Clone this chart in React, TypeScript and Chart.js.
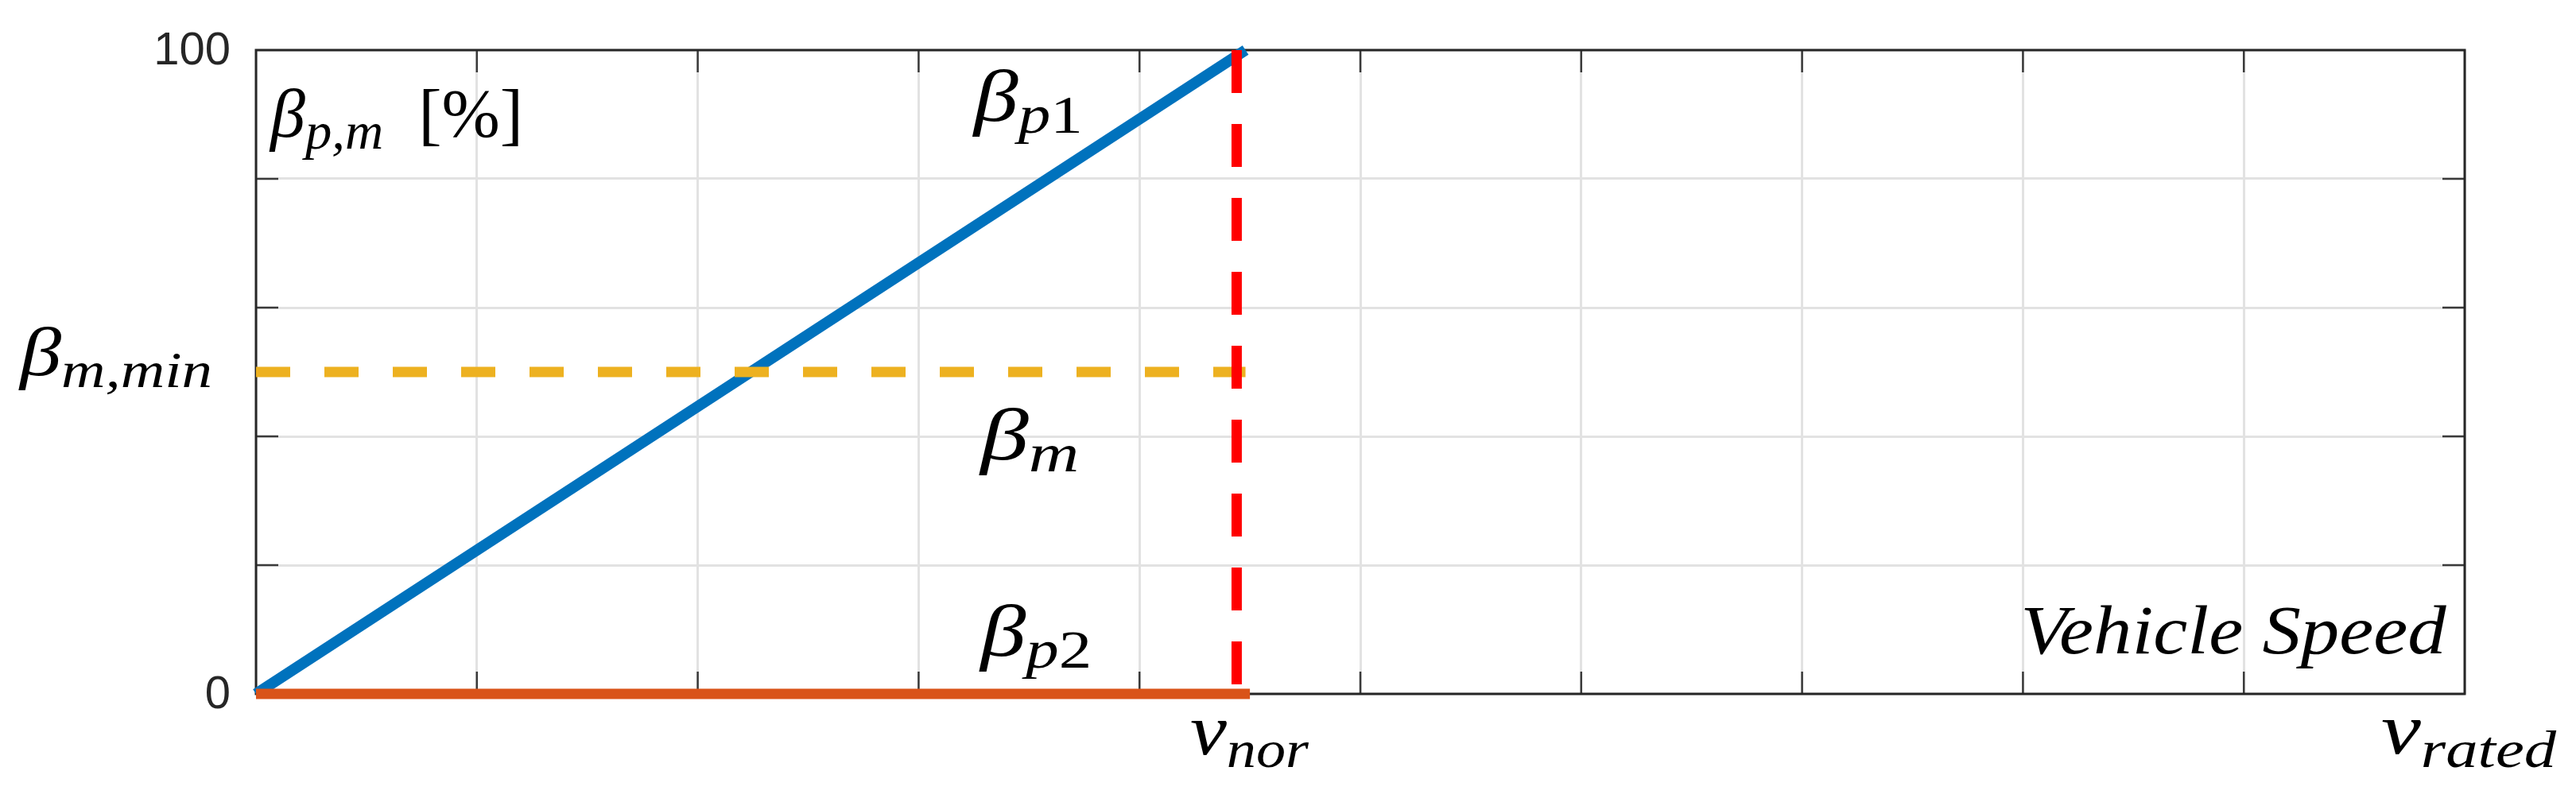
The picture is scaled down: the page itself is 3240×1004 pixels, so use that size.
import React, { useEffect, useRef } from 'react';
import { Chart, registerables } from 'chart.js';

Chart.register(...registerables);

// ---- data ----
const speedMin = 0;
const speedMax = 100;
const speedStep = 10;
const shareMin = 0;
const shareMax = 100;
const shareStep = 20;
const shareTickLabels = [0, 100];

const vNor = 44.4;
const vRated = 100;

const betaP1Speed = [0, 44.8];
const betaP1Share = [0, 100];

const betaP2Speed = [0, 45];
const betaP2Share = [0, 0];

const betaMMinSpeed = [0, 44.8];
const betaMMinShare = [50, 50];

const vNorMarkerSpeed = [vNor, vNor];
const vNorMarkerShare = [100, 0];

// ---- styles ----
const SERIF = '"Liberation Serif", "Times New Roman", serif';
const SANS = '"Liberation Sans", Arial, Helvetica, sans-serif';
const AXIS = '#262626';
const GRID = '#e2e2e2';

type Seg = { t: string; it?: boolean; sub?: boolean };

function drawRich(
  ctx: CanvasRenderingContext2D,
  segs: Seg[],
  size: number,
  subSize: number,
  subDrop: number,
  x: number,
  baseline: number,
  align: 'left' | 'center' | 'right',
  targetW?: number
) {
  const fontOf = (s: Seg) => `${s.it ? 'italic ' : ''}${s.sub ? subSize : size}px ${SERIF}`;
  let w = 0;
  const widths = segs.map((s) => {
    ctx.font = fontOf(s);
    const m = ctx.measureText(s.t).width;
    w += m;
    return m;
  });
  const sx = targetW ? targetW / w : 1;
  const totalW = w * sx;
  const left = align === 'center' ? x - totalW / 2 : align === 'right' ? x - totalW : x;
  ctx.save();
  ctx.translate(left, 0);
  ctx.scale(sx, 1);
  ctx.fillStyle = '#000000';
  ctx.textAlign = 'left';
  ctx.textBaseline = 'alphabetic';
  let cx = 0;
  segs.forEach((s, i) => {
    ctx.font = fontOf(s);
    ctx.fillText(s.t, cx, baseline + (s.sub ? subDrop : 0));
    cx += widths[i];
  });
  ctx.restore();
}

const decorPlugin = {
  id: 'decor',
  beforeDatasetsDraw(chart: any) {
    const ctx: CanvasRenderingContext2D = chart.ctx;
    const { left, right, top, bottom } = chart.chartArea;
    const xs = chart.scales.x;
    const ys = chart.scales.y;
    ctx.save();
    // inward ticks
    ctx.strokeStyle = '#3a3a3a';
    ctx.lineWidth = 2.5;
    const tl = 28;
    ctx.beginPath();
    xs.ticks.forEach((t: any) => {
      if (t.value <= speedMin || t.value >= speedMax) return;
      const px = xs.getPixelForValue(t.value);
      ctx.moveTo(px, bottom);
      ctx.lineTo(px, bottom - tl);
      ctx.moveTo(px, top);
      ctx.lineTo(px, top + tl);
    });
    ys.ticks.forEach((t: any) => {
      if (t.value <= shareMin || t.value >= shareMax) return;
      const py = ys.getPixelForValue(t.value);
      ctx.moveTo(left, py);
      ctx.lineTo(left + tl, py);
      ctx.moveTo(right, py);
      ctx.lineTo(right - tl, py);
    });
    ctx.stroke();
    // box
    ctx.strokeStyle = AXIS;
    ctx.lineWidth = 3;
    ctx.strokeRect(left, top, right - left, bottom - top);
    ctx.restore();
  },
  afterDraw(chart: any) {
    const ctx: CanvasRenderingContext2D = chart.ctx;
    const { left, bottom } = chart.chartArea;
    const xs = chart.scales.x;
    const ys = chart.scales.y;
    const X = (v: number) => xs.getPixelForValue(v);
    const Y = (v: number) => ys.getPixelForValue(v);

    // y tick labels (only the labelled ones)
    ctx.save();
    ctx.fillStyle = AXIS;
    ctx.font = `58px ${SANS}`;
    ctx.textAlign = 'right';
    ctx.textBaseline = 'middle';
    ys.ticks.forEach((t: any) => {
      if (!shareTickLabels.includes(t.value)) return;
      ctx.fillText(String(t.value), left - 32, Y(t.value) + 2);
    });
    ctx.restore();

    drawRich(ctx, [{ t: 'β', it: true }, { t: 'p,m', it: true, sub: true }, { t: '  [%]' }],
      87, 66, 15, X(0.65), Y(86.5), 'left', 318);
    drawRich(ctx, [{ t: 'β', it: true }, { t: 'p', it: true, sub: true }, { t: '1', sub: true }],
      94, 68, 15, X(32.5), Y(89.0), 'left', 137);
    drawRich(ctx, [{ t: 'β', it: true }, { t: 'm', it: true, sub: true }],
      94, 68, 15, X(32.8), Y(36.4), 'left', 124);
    drawRich(ctx, [{ t: 'β', it: true }, { t: 'p', it: true, sub: true }, { t: '2', sub: true }],
      94, 68, 15, X(32.8), Y(5.9), 'left', 140);
    drawRich(ctx, [{ t: 'Vehicle Speed', it: true }],
      87, 62, 0, X(79.9), Y(6.3), 'left', 535);
    drawRich(ctx, [{ t: 'β', it: true }, { t: 'm,min', it: true, sub: true }],
      87, 64, 15, left - 55, Y(betaMMinShare[0]) + 4, 'right', 242);
    drawRich(ctx, [{ t: 'v', it: true }, { t: 'nor', it: true, sub: true }],
      92, 66, 16, X(vNor) + 16, bottom + 76, 'center', 149);
    drawRich(ctx, [{ t: 'v', it: true }, { t: 'rated', it: true, sub: true }],
      92, 66, 17, X(vRated) + 5, bottom + 75, 'center', 220);
  },
};

const pts = (xs: number[], ys: number[]) => xs.map((x, i) => ({ x, y: ys[i] }));

export default function App() {
  const ref = useRef<HTMLCanvasElement | null>(null);

  useEffect(() => {
    if (!ref.current) return;
    const chart = new Chart(ref.current, {
      type: 'line',
      data: {
        datasets: [
          {
            label: 'beta_p1',
            data: pts(betaP1Speed, betaP1Share),
            borderColor: '#0072BD',
            borderWidth: 14,
            pointRadius: 0,
            borderCapStyle: 'butt',
            clip: false as any,
            order: 3,
          },
          {
            label: 'beta_p2',
            data: pts(betaP2Speed, betaP2Share),
            borderColor: '#D95319',
            borderWidth: 13,
            pointRadius: 0,
            borderCapStyle: 'butt',
            clip: false as any,
            order: 2,
          },
          {
            label: 'beta_m_min',
            data: pts(betaMMinSpeed, betaMMinShare),
            borderColor: '#EDB120',
            borderWidth: 13,
            borderDash: [43, 43],
            pointRadius: 0,
            borderCapStyle: 'butt',
            clip: false as any,
            order: 1,
          },
          {
            label: 'v_nor',
            data: pts(vNorMarkerSpeed, vNorMarkerShare),
            borderColor: '#FF0000',
            borderWidth: 13,
            borderDash: [54, 39],
            pointRadius: 0,
            borderCapStyle: 'butt',
            clip: false as any,
            order: 0,
          },
        ],
      },
      options: {
        animation: false,
        responsive: true,
        maintainAspectRatio: false,
        layout: { padding: { left: 0, top: 63, right: 140, bottom: 0 } },
        plugins: { legend: { display: false }, tooltip: { enabled: false } },
        elements: { line: { tension: 0 } },
        scales: {
          x: {
            type: 'linear',
            min: speedMin,
            max: speedMax,
            ticks: { display: false, stepSize: speedStep },
            grid: { color: GRID, lineWidth: 3, drawTicks: false },
            border: { display: false },
            afterFit: (s: any) => {
              s.height = 131;
            },
          },
          y: {
            type: 'linear',
            min: shareMin,
            max: shareMax,
            ticks: { display: false, stepSize: shareStep },
            grid: { color: GRID, lineWidth: 3, drawTicks: false },
            border: { display: false },
            afterFit: (s: any) => {
              s.width = 322;
            },
          },
        },
      },
      plugins: [decorPlugin],
    });
    return () => chart.destroy();
  }, []);

  return (
    <div
      style={{
        position: 'fixed',
        left: 0,
        top: 0,
        width: '3240px',
        height: '1004px',
        background: '#ffffff',
      }}
    >
      <canvas ref={ref} />
    </div>
  );
}
